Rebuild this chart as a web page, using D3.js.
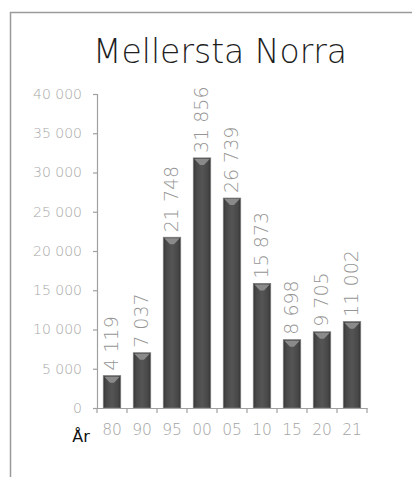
<!DOCTYPE html>
<html><head><meta charset="utf-8">
<script src="https://cdn.jsdelivr.net/npm/d3@7"></script>
<style>
html,body{margin:0;padding:0;background:#fff;}
svg{display:block;}
</style>
</head><body>
<svg id="chart" width="412" height="477"></svg>
<script>
const title = "Mellersta Norra";
const categories = ["80","90","95","00","05","10","15","20","21"];
const values = [4119, 7037, 21748, 31856, 26739, 15873, 8698, 9705, 11002];
const yTicks = [0,5000,10000,15000,20000,25000,30000,35000,40000];
const xAxisTitle = "År";

const svg = d3.select("#chart");
const font = "'DejaVu Sans', sans-serif";
const fmt = v => d3.format(",")(v).replace(/,/g, " ");

// frame
svg.append("path").attr("d","M10.5,477 L10.5,12.5 L412,12.5")
  .attr("fill","none").attr("stroke","#9a9a9a").attr("stroke-width",1.5);

svg.append("text").attr("x",220).attr("y",63).attr("text-anchor","middle")
  .attr("font-family",font).attr("font-weight",200).attr("font-size",33)
  .attr("fill","#1e1e1e").text(title);

const x = d3.scaleBand().domain(categories).range([97,367]).paddingInner(0.42).paddingOuter(0.21);
const y = d3.scaleLinear().domain([0,40000]).range([408,94]);

const defs = svg.append("defs");
const g = defs.append("linearGradient").attr("id","barg").attr("x1","0").attr("x2","1").attr("y1","0").attr("y2","0");
g.append("stop").attr("offset","0").attr("stop-color","#333");
g.append("stop").attr("offset","0.15").attr("stop-color","#474747");
g.append("stop").attr("offset","0.5").attr("stop-color","#555");
g.append("stop").attr("offset","0.85").attr("stop-color","#474747");
g.append("stop").attr("offset","1").attr("stop-color","#333");

// y axis
const yAxis = svg.append("g").attr("transform","translate(97,0)")
  .call(d3.axisLeft(y).tickValues(yTicks).tickSize(4).tickSizeOuter(4).tickFormat(fmt).tickPadding(11));
yAxis.select(".domain").attr("stroke","#a0a0a0").attr("stroke-width",1.2);
yAxis.selectAll(".tick line").attr("stroke","#a0a0a0").attr("stroke-width",1.2);
yAxis.selectAll("text").attr("font-family",font).attr("font-weight",200).attr("font-size",14).attr("fill","#a8a8a8");

// bars
const bars = svg.append("g").selectAll("g").data(values).join("g");
bars.append("rect")
  .attr("x",(d,i)=>x(categories[i])).attr("y",d=>y(d))
  .attr("width",x.bandwidth()).attr("height",d=>y(0)-y(d))
  .attr("fill","url(#barg)").attr("stroke","#7a7a7a").attr("stroke-width",0.8);
bars.append("path")
  .attr("d",(d,i)=>{
    const x0=x(categories[i])+1, x1=x0+x.bandwidth()-2, t=y(d)+1, cx=(x0+x1)/2;
    return `M${x0},${t} L${x1},${t} L${cx+2},${t+6} L${cx-2},${t+6} Z`;
  }).attr("fill","#8a8a8a");

// labels
bars.append("text")
  .attr("transform",(d,i)=>`translate(${x(categories[i])+x.bandwidth()/2+6},${y(d)-5}) rotate(-90)`)
  .attr("font-family",font).attr("font-weight",200).attr("font-size",19).attr("fill","#959595")
  .text(d=>fmt(d));

// x axis
const xAxis = svg.append("g").attr("transform","translate(0,408)")
  .call(d3.axisBottom(x).tickSize(0).tickPadding(16));
xAxis.select(".domain").attr("stroke","#a0a0a0").attr("stroke-width",1.2);
xAxis.selectAll("text").attr("font-family",font).attr("font-weight",200).attr("font-size",15.5).attr("fill","#a3a3a3");
const step = x.step();
const bounds = d3.range(categories.length+1).map(i=>97+i*step);
svg.append("g").selectAll("line").data(bounds).join("line")
  .attr("x1",d=>d).attr("x2",d=>d).attr("y1",408).attr("y2",413)
  .attr("stroke","#a0a0a0").attr("stroke-width",1.2);

svg.append("text").attr("x",81).attr("y",442).attr("text-anchor","middle")
  .attr("font-family",font).attr("font-size",16).attr("fill","#111").text(xAxisTitle);
</script>
</body></html>
